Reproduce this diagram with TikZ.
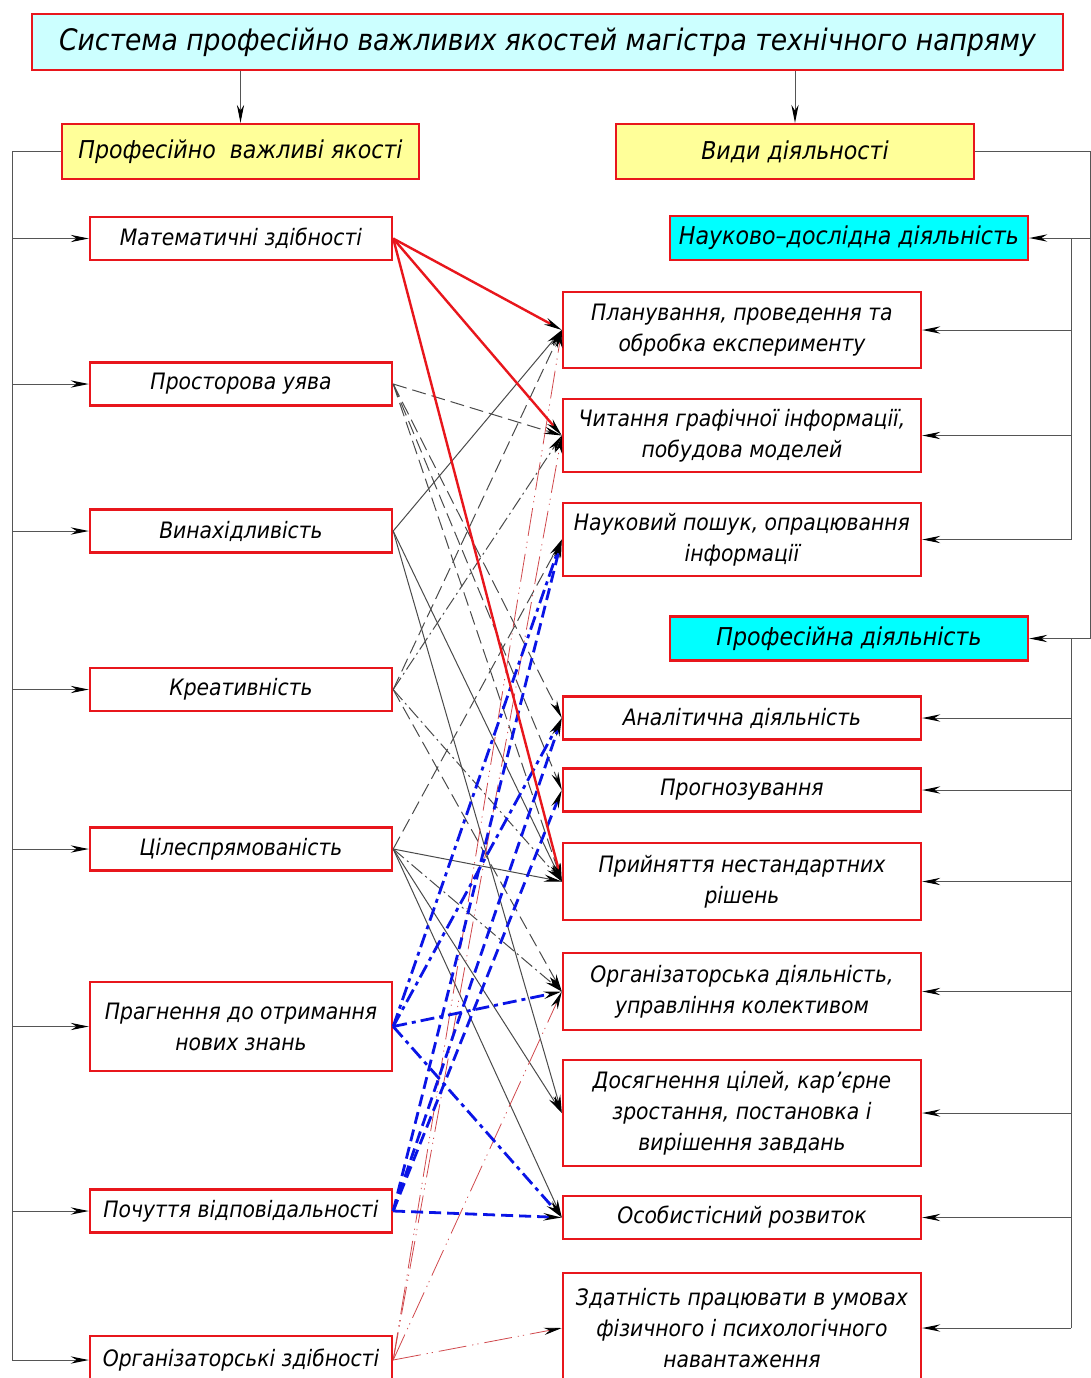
\documentclass[tikz,border=0pt]{standalone}
\usepackage{fontspec}
\setmainfont{DejaVu Sans Condensed}
\usepackage{tikz}
\usetikzlibrary{arrows.meta}
\usepackage{xcolor}
\definecolor{boxred}{HTML}{E8161C}
\definecolor{titlefill}{HTML}{CCFFFF}
\definecolor{headfill}{HTML}{FFFF99}
\definecolor{groupfill}{HTML}{00FFFF}
\definecolor{busgray}{HTML}{555555}
\definecolor{linkgray}{HTML}{4A4A4A}
\definecolor{linkblue}{HTML}{0A14E6}
\definecolor{linkred}{HTML}{D0484C}

\newcommand\boxfont{\itshape\fontsize{11.3}{15.5}\selectfont}
\newcommand\headfont{\itshape\fontsize{12.3}{14}\selectfont}

\tikzset{
  linkarrow/.style={-{Stealth[length=9pt,width=3.6pt,color=black]}},
  anybox/.style={draw=boxred,line width=1.2pt,inner sep=0pt,align=center},
  qualbox/.style={anybox,minimum width=151pt,minimum height=21.5pt,font=\boxfont},
  kindbox/.style={anybox,minimum width=179pt,minimum height=21.5pt,font=\boxfont},
  bus/.style={busgray,line width=0.5pt},
  graysolid/.style={linkgray,line width=0.5pt,linkarrow},
  graydash/.style={graysolid,dash pattern=on 7pt off 3pt},
  graydashdot/.style={graysolid,dash pattern=on 7pt off 2pt on 1pt off 2pt},
  strongred/.style={boxred,line width=1.2pt,linkarrow},
  thinred/.style={linkred,line width=0.4pt,linkarrow,dash pattern=on 14pt off 3pt on 0.6pt off 2pt on 0.6pt off 3pt},
  bluedashdot/.style={linkblue,line width=1.4pt,linkarrow,dash pattern=on 7pt off 2.5pt on 2pt off 2.5pt},
  bluedash/.style={linkblue,line width=1.4pt,linkarrow,dash pattern=on 6pt off 3pt}
}

\begin{document}
\begin{tikzpicture}[x=0.5pt,y=-0.5pt]
    \useasboundingbox (0,0) rectangle (1091,1378);
    \clip (0,0) rectangle (1091,1378);

    % Title
    \node[anybox,fill=titlefill,minimum width=515.5pt,minimum height=28pt,font=\itshape\fontsize{14.8}{17}\selectfont] (title) at (547.5,42) {Система професійно важливих якостей магістра технічного напряму};

    % Headers
    \node[anybox,fill=headfill,minimum width=178.5pt,minimum height=27.5pt,font=\headfont] (quals) at (240.5,151.5) {Професійно\ \ важливі якості};
    \node[anybox,fill=headfill,minimum width=179pt,minimum height=27.5pt,font=\headfont] (kinds) at (795,151.5) {Види діяльності};
    \draw[bus,linkarrow] (title.south -| quals.north) -- (quals.north);
    \draw[bus,linkarrow] (title.south -| kinds.north) -- (kinds.north);

    % Groups of activity
    \node[anybox,fill=groupfill,minimum width=179pt,minimum height=22pt,font=\headfont] (research) at (849,238) {Науково--дослідна діяльність};
    \node[anybox,fill=groupfill,minimum width=179pt,minimum height=22pt,font=\headfont] (profess) at (849,638.5) {Професійна діяльність};

    % Qualities
    \node[qualbox] (mat) at (241,238.5) {Математичні здібності};
    \node[qualbox] (prost) at (241,384) {Просторова уява};
    \node[qualbox] (vynakh) at (241,531) {Винахідливість};
    \node[qualbox] (kreat) at (241,689.5) {Креативність};
    \node[qualbox] (tsil) at (241,849) {Цілеспрямованість};
    \node[qualbox,minimum height=44.5pt] (prahn) at (241,1026.5) {Прагнення до отримання\\нових знань};
    \node[qualbox] (pochutt) at (241,1211) {Почуття відповідальності};
    \node[qualbox,minimum height=24pt] (orgzd) at (241,1360) {Організаторські здібності};

    % Activities
    \node[kindbox,minimum height=38pt] (plan) at (742,330) {Планування, проведення та\\обробка експерименту};
    \node[kindbox,minimum height=36.5pt] (chyt) at (742,435.5) {Читання графічної інформації,\\побудова моделей};
    \node[kindbox,minimum height=36.5pt] (nauk) at (742,539.5) {Науковий пошук, опрацювання\\інформації};
    \node[kindbox] (anal) at (742,718) {Аналітична діяльність};
    \node[kindbox] (prohn) at (742,790) {Прогнозування};
    \node[kindbox,minimum height=38.5pt] (pryin) at (742,881.5) {Прийняття нестандартних\\рішень};
    \node[kindbox,minimum height=38.5pt] (orgd) at (742,991.5) {Організаторська діяльність,\\управління колективом};
    \node[kindbox,minimum height=53pt] (dosiah) at (742,1113) {Досягнення цілей, кар’єрне\\зростання, постановка і\\вирішення завдань};
    \node[kindbox] (osob) at (742,1217.5) {Особистісний розвиток};
    \node[kindbox,minimum height=55pt] (zdatn) at (742,1328) {Здатність працювати в умовах\\фізичного і психологічного\\навантаження};

    % Left bus
    \coordinate (lbus) at (12,151.5);
    \draw[bus] (quals.west) -- (lbus) -- (lbus |- orgzd.west);
    \foreach \n in {mat,prost,vynakh,kreat,tsil,prahn,pochutt,orgzd}
      \draw[bus,linkarrow] (lbus |- \n.west) -- (\n.west);

    % Right bus
    \coordinate (rbusout) at (1090,151.5);
    \coordinate (rbusin) at (1071,238);
    \draw[bus] (kinds.east) -- (rbusout) -- (rbusout |- profess.east);
    \draw[bus,linkarrow] (rbusout |- research.east) -- (research.east);
    \draw[bus,linkarrow] (rbusout |- profess.east) -- (profess.east);
    \draw[bus] (rbusin |- research.east) -- (rbusin |- nauk.east);
    \draw[bus] (rbusin |- profess.east) -- (rbusin |- zdatn.east);
    \foreach \n in {plan,chyt,nauk,anal,prohn,pryin,orgd,dosiah,osob,zdatn}
      \draw[bus,linkarrow] (rbusin |- \n.east) -- (\n.east);

    % Links: grey
    \foreach \a/\b in {prost/chyt,prost/anal,prost/prohn,prost/pryin,kreat/plan,kreat/orgd,tsil/nauk}
      \draw[graydash] (\a.east) -- (\b.west);
    \foreach \a/\b in {kreat/chyt,kreat/pryin,tsil/orgd}
      \draw[graydashdot] (\a.east) -- (\b.west);
    \foreach \a/\b in {vynakh/plan,vynakh/pryin,vynakh/dosiah,tsil/pryin,tsil/dosiah,tsil/osob}
      \draw[graysolid] (\a.east) -- (\b.west);

    % Links: thin red
    \foreach \b in {plan,chyt,orgd,zdatn}
      \draw[thinred] (orgzd.east) -- (\b.west);

    % Links: blue
    \foreach \b in {nauk,anal,orgd,osob}
      \draw[bluedashdot] (prahn.east) -- (\b.west);
    \foreach \b in {nauk,anal,prohn,osob}
      \draw[bluedash] (pochutt.east) -- (\b.west);

    % Links: red
    \foreach \b in {plan,chyt,pryin}
      \draw[strongred] (mat.east) -- (\b.west);
\end{tikzpicture}
\end{document}
